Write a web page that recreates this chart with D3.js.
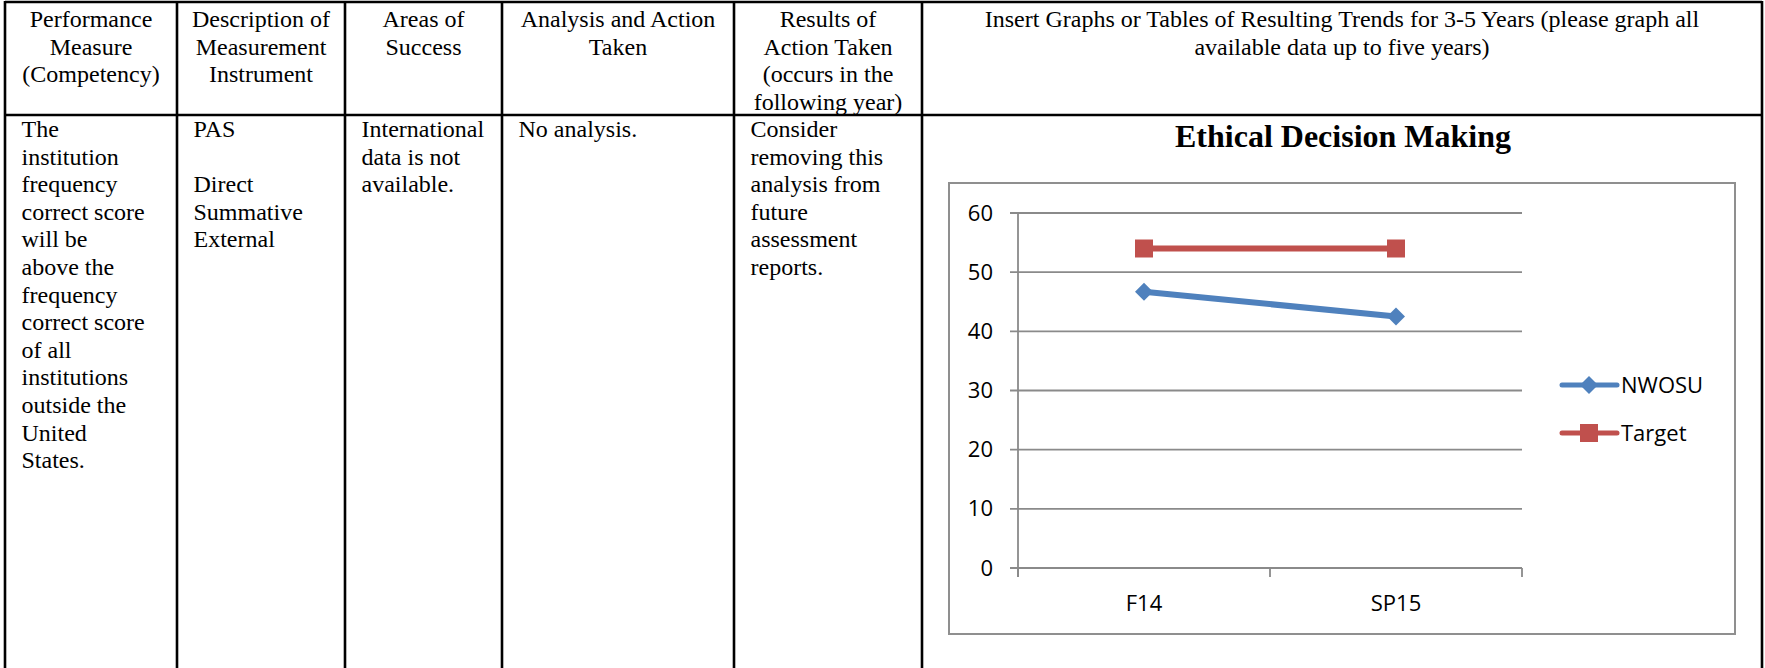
<!DOCTYPE html>
<html>
<head>
<meta charset="utf-8">
<script src="https://cdn.jsdelivr.net/npm/d3@7"></script>
<style>
  body { margin: 0; background: #fff; }
</style>
</head>
<body>
<div id="page"></div>
<script>
// Table content
const headerCells = [
  ["Performance", "Measure", "(Competency)"],
  ["Description of", "Measurement", "Instrument"],
  ["Areas of", "Success"],
  ["Analysis and Action", "Taken"],
  ["Results of", "Action Taken", "(occurs in the", "following year)"],
  ["Insert Graphs or Tables of Resulting Trends for 3-5 Years (please graph all", "available data up to five years)"]
];
const bodyCells = [
  ["The", "institution", "frequency", "correct score", "will be", "above the", "frequency",
   "correct score", "of all", "institutions", "outside the", "United", "States."],
  ["PAS", "", "Direct", "Summative", "External"],
  ["International", "data is not", "available."],
  ["No analysis."],
  ["Consider", "removing this", "analysis from", "future", "assessment", "reports."]
];

// Chart data
const chartTitle = "Ethical Decision Making";
const categories = ["F14", "SP15"];
const nwosu = [46.7, 42.5];
const target = [54, 54];
const yTicks = [0, 10, 20, 30, 40, 50, 60];
const seriesNames = ["NWOSU", "Target"];

// Style properties
const size = { width: 1765, height: 668 };
const colX = [5, 177, 345, 502, 734, 922, 1762];
const headerBottom = 115;
const lineStep = 27.6;
const serif = "'Liberation Serif', 'Times New Roman', serif";
const sans = "'Open Sans', 'Noto Sans', sans-serif";
const blue = "#4f81bd";
const red = "#c0504d";
const gridColor = "#8a8a8a";

const svg = d3.select("#page")
  .append("svg")
  .attr("width", size.width)
  .attr("height", size.height);

// Table grid
const table = svg.append("g").attr("stroke", "#000").attr("stroke-width", 2.6);
table.selectAll("line.v")
  .data(colX)
  .join("line")
  .attr("class", "v")
  .attr("x1", (d) => d).attr("x2", (d) => d)
  .attr("y1", 1).attr("y2", size.height);
table.selectAll("line.h")
  .data([2, headerBottom])
  .join("line")
  .attr("class", "h")
  .attr("x1", colX[0]).attr("x2", colX[colX.length - 1])
  .attr("y1", (d) => d).attr("y2", (d) => d);

// Header texts (centered)
const headerCenters = colX.slice(0, -1).map((x, i) => (x + colX[i + 1]) / 2);
svg.append("g")
  .selectAll("text")
  .data(headerCells.flatMap((lines, i) => lines.map((t, j) => ({ t, i, j }))))
  .join("text")
  .attr("x", (d) => headerCenters[d.i])
  .attr("y", (d) => 27 + d.j * lineStep)
  .attr("text-anchor", "middle")
  .style("font-family", serif)
  .style("font-size", "24px")
  .text((d) => d.t);

// Body texts (left aligned)
svg.append("g")
  .selectAll("text")
  .data(bodyCells.flatMap((lines, i) => lines.map((t, j) => ({ t, i, j }))))
  .join("text")
  .attr("x", (d) => colX[d.i] + 16.5)
  .attr("y", (d) => 137 + d.j * lineStep)
  .style("font-family", serif)
  .style("font-size", "24px")
  .text((d) => d.t);

// Chart
const chart = svg.append("g");

chart.append("text")
  .attr("x", 1343)
  .attr("y", 147)
  .attr("text-anchor", "middle")
  .style("font-family", serif)
  .style("font-weight", "bold")
  .style("font-size", "32px")
  .text(chartTitle);

chart.append("rect")
  .attr("x", 949).attr("y", 183)
  .attr("width", 1735 - 949).attr("height", 634 - 183)
  .attr("fill", "none")
  .attr("stroke", "#8f8f8f")
  .attr("stroke-width", 2);

const xScale = d3.scaleBand(categories, [1018, 1522]);
const yScale = d3.scaleLinear([0, 60], [568, 213]);
const cx = (c) => xScale(c) + xScale.bandwidth() / 2;

// Gridlines
chart.append("g")
  .selectAll("line")
  .data(yTicks)
  .join("line")
  .attr("x1", 1010).attr("x2", 1522)
  .attr("y1", (d) => yScale(d)).attr("y2", (d) => yScale(d))
  .attr("stroke", gridColor)
  .attr("stroke-width", 1.8);

// Y axis
const yAxis = chart.append("g")
  .attr("transform", "translate(1018,0)")
  .call(d3.axisLeft(yScale).tickValues(yTicks).tickSize(8).tickPadding(17));
yAxis.select(".domain").remove();
yAxis.selectAll("line").remove();
yAxis.selectAll("text")
  .attr("fill", "#000")
  .style("font-family", sans)
  .style("font-size", "22px");
chart.append("line")
  .attr("x1", 1018).attr("x2", 1018)
  .attr("y1", yScale(60)).attr("y2", yScale(0) + 9)
  .attr("stroke", gridColor).attr("stroke-width", 1.8);

// X axis boundary ticks and labels
chart.append("g")
  .selectAll("line")
  .data(d3.range(categories.length + 1))
  .join("line")
  .attr("x1", (i) => xScale.range()[0] + i * xScale.step())
  .attr("x2", (i) => xScale.range()[0] + i * xScale.step())
  .attr("y1", yScale(0)).attr("y2", yScale(0) + 9)
  .attr("stroke", gridColor).attr("stroke-width", 1.8);
chart.append("g")
  .selectAll("text")
  .data(categories)
  .join("text")
  .attr("x", (d) => cx(d))
  .attr("y", 611)
  .attr("text-anchor", "middle")
  .style("font-family", sans)
  .style("font-size", "22px")
  .text((d) => d);

// Series
const series = [
  { name: seriesNames[0], values: nwosu, color: blue, symbol: d3.symbol(d3.symbolSquare, 162), rotate: 45 },
  { name: seriesNames[1], values: target, color: red, symbol: d3.symbol(d3.symbolSquare, 324), rotate: 0 }
];
const line = d3.line().x((d, i) => cx(categories[i])).y((d) => yScale(d));

series.forEach((s) => {
  chart.append("path")
    .datum(s.values)
    .attr("d", line)
    .attr("fill", "none")
    .attr("stroke", s.color)
    .attr("stroke-width", 6)
    .attr("stroke-linecap", "round");
  chart.append("g")
    .selectAll("path")
    .data(s.values)
    .join("path")
    .attr("d", s.symbol)
    .attr("transform", (d, i) => `translate(${cx(categories[i])},${yScale(d)}) rotate(${s.rotate})`)
    .attr("fill", s.color);
});

// Legend
const legend = chart.append("g")
  .selectAll("g")
  .data(series)
  .join("g")
  .attr("transform", (d, i) => `translate(1562,${385 + i * 48})`);
legend.append("line")
  .attr("x1", 0).attr("x2", 55)
  .attr("stroke", (d) => d.color)
  .attr("stroke-width", 5)
  .attr("stroke-linecap", "round");
legend.append("path")
  .attr("d", (d) => d.symbol())
  .attr("transform", (d) => `translate(27,0) rotate(${d.rotate})`)
  .attr("fill", (d) => d.color);
legend.append("text")
  .attr("x", 59)
  .attr("y", 8)
  .style("font-family", sans)
  .style("font-size", "22px")
  .text((d) => d.name);
</script>
</body>
</html>
